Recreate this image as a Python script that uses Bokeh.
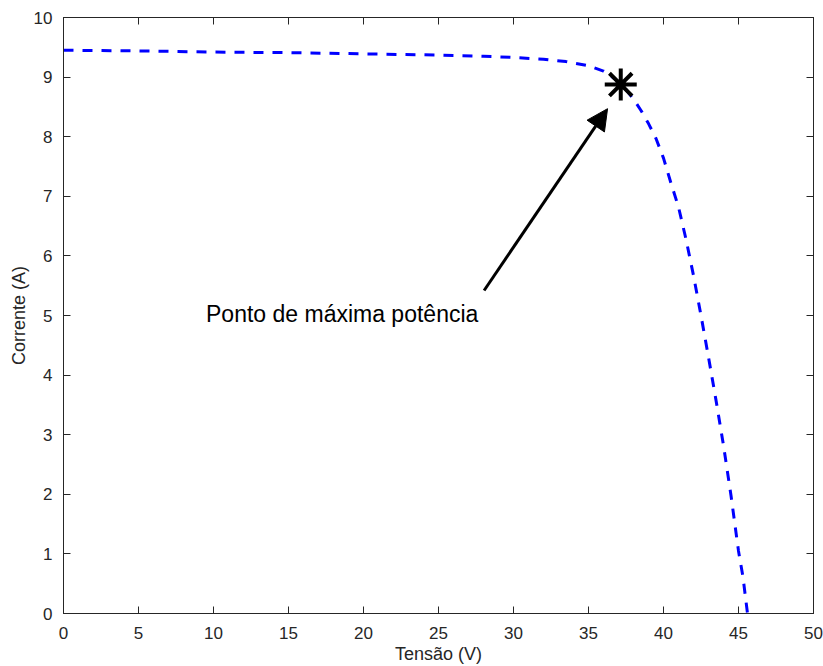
from bokeh.plotting import figure
from bokeh.models import (LinearAxis, Range1d, SingleIntervalTicker, Arrow, NormalHead, Label,
                          CustomJSTickFormatter)
from bokeh.embed import file_html
from bokeh.resources import INLINE

# I-V curve (Tensão in V, Corrente in A)
tensao = [0, 5, 10, 15, 20, 25, 28, 30, 32, 33.5, 35, 36, 36.5, 37, 37.5, 38, 38.5,
          39, 39.5, 40, 40.5, 41, 41.5, 42, 42.5, 43, 43.5, 44, 44.5, 45, 45.3, 45.6]
corrente = [9.45, 9.44, 9.42, 9.41, 9.39, 9.37, 9.35, 9.33, 9.30, 9.26, 9.19, 9.10, 9.02,
            8.92, 8.79, 8.63, 8.44, 8.22, 7.97, 7.64, 7.22, 6.82, 6.28, 5.67, 5.00,
            4.30, 3.58, 2.82, 1.98, 1.05, 0.61, 0.0]

# maximum power point
mpp_v = [37.15]
mpp_i = [8.875]

# annotation
annot_text = "Ponto de máxima potência"
annot_pos = (9.5, 5.02)
arrow_start = (28.04, 5.42)
arrow_end = (36.27, 8.47)

x_label = "Tensão (V)"
y_label = "Corrente (A)"

FONT = "Liberation Sans"
AX = "#262626"

p = figure(width=823, height=666, output_backend="svg", toolbar_location=None,
           x_range=Range1d(0, 50), y_range=Range1d(0, 10),
           min_border_left=63, min_border_right=10, min_border_top=17, min_border_bottom=53)
p.grid.visible = False
p.outline_line_color = AX
p.outline_line_width = 1
p.background_fill_color = "white"
p.border_fill_color = "white"

def style(ax, labels=True):
    ax.axis_line_color = AX
    ax.major_tick_line_color = AX
    ax.major_tick_in = 7
    ax.major_tick_out = 0
    ax.minor_tick_line_color = None
    ax.major_label_text_font = FONT
    ax.major_label_text_color = AX
    ax.major_label_text_font_size = "17px"
    ax.axis_label_text_font = FONT
    ax.axis_label_text_font_style = "normal"
    ax.axis_label_text_color = AX
    ax.axis_label_text_font_size = "18px"
    if not labels:
        ax.formatter = CustomJSTickFormatter(code="return '';")
        ax.major_label_text_font_size = "1px"
        ax.major_label_standoff = 0

p.xaxis.ticker = SingleIntervalTicker(interval=5)
p.yaxis.ticker = SingleIntervalTicker(interval=1)
for a in p.xaxis:
    style(a)
    a.axis_label = x_label
    a.major_label_standoff = 9
    a.axis_label_standoff = 2
for a in p.yaxis:
    style(a)
    a.axis_label = y_label
    a.major_label_standoff = 7
    a.axis_label_standoff = 2

top = LinearAxis(ticker=SingleIntervalTicker(interval=5))
style(top, labels=False)
p.add_layout(top, "above")
right = LinearAxis(ticker=SingleIntervalTicker(interval=1))
style(right, labels=False)
p.add_layout(right, "right")

p.line(tensao, corrente, line_color="#0000FF", line_width=3, line_dash="10 9")
p.scatter(mpp_v, mpp_i, marker="asterisk", size=32, line_color="black", line_width=4)

p.add_layout(Arrow(x_start=arrow_start[0], y_start=arrow_start[1],
                   x_end=arrow_end[0], y_end=arrow_end[1],
                   line_color="black", line_width=3,
                   end=NormalHead(size=21, fill_color="black", line_color="black", line_width=1)))
p.add_layout(Label(x=annot_pos[0], y=annot_pos[1], text=annot_text,
                   text_font=FONT, text_font_size="23px", text_color="black",
                   text_align="left", text_baseline="alphabetic"))

open("out.html", "w").write(file_html(p, INLINE))
